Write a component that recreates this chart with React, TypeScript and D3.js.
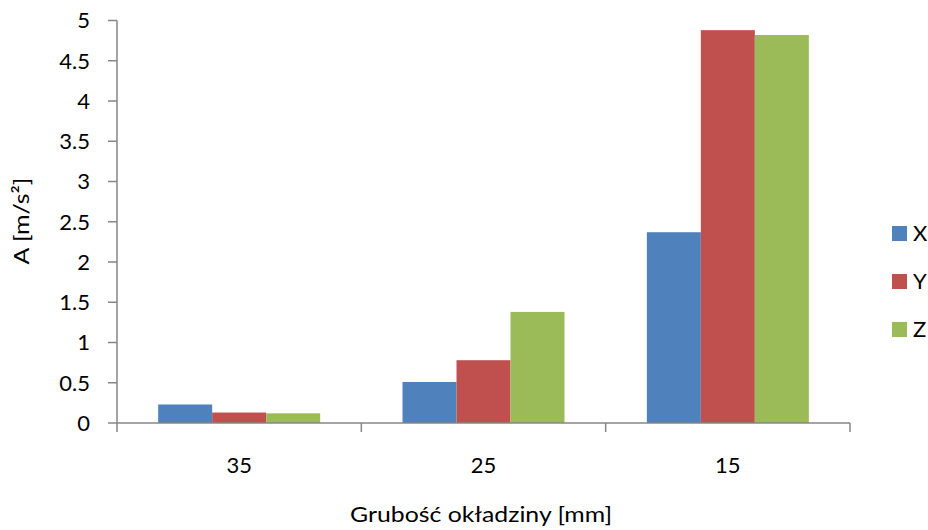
import React from "react";
import * as d3 from "d3";

const categories = ["35", "25", "15"];
const seriesNames = ["X", "Y", "Z"];
const valuesX = [0.23, 0.51, 2.37];
const valuesY = [0.13, 0.78, 4.88];
const valuesZ = [0.12, 1.38, 4.82];
const yTicks = [0, 0.5, 1, 1.5, 2, 2.5, 3, 3.5, 4, 4.5, 5];
const colors = ["#4F81BD", "#C0504D", "#9BBB59"];

const W = 928, H = 530;
const left = 117, right = 850, top = 20.5, bottom = 423;
const font = "Lato, 'Open Sans', sans-serif";

export default function App() {
  const series = [valuesX, valuesY, valuesZ];
  const x0 = d3.scaleBand().domain(categories).range([left, right]).paddingInner(0).paddingOuter(0);
  const x1 = d3.scaleBand().domain(seriesNames).range([0, x0.bandwidth() * 0.663]).padding(0);
  const groupOffset = (x0.bandwidth() - x0.bandwidth() * 0.663) / 2;
  const y = d3.scaleLinear().domain([0, 5]).range([bottom, top]);
  const axisColor = "#868686";
  const boundaries = [left, ...categories.map((c) => (x0(c) as number) + x0.bandwidth())];

  return (
    <svg width={W} height={H} style={{ position: "absolute", left: 0, top: 0, background: "#fff" }}>
      {series.map((vals, si) =>
        vals.map((v, ci) => (
          <rect
            key={`${si}-${ci}`}
            x={(x0(categories[ci]) as number) + groupOffset + (x1(seriesNames[si]) as number)}
            y={y(v)}
            width={x1.bandwidth()}
            height={y(0) - y(v)}
            fill={colors[si]}
          />
        ))
      )}
      {/* y axis */}
      <line x1={left} x2={left} y1={top} y2={bottom} stroke={axisColor} strokeWidth={1.5} />
      {yTicks.map((t) => (
        <g key={t}>
          <line x1={left - 9} x2={left} y1={y(t)} y2={y(t)} stroke={axisColor} strokeWidth={1.5} />
          <text x={left - 27} y={y(t)} dy="0.36em" textAnchor="end" fontSize={22} fontFamily={font} fill="#000">
            {t}
          </text>
        </g>
      ))}
      {/* x axis */}
      <line x1={left} x2={right} y1={bottom} y2={bottom} stroke={axisColor} strokeWidth={1.5} />
      {boundaries.map((b, i) => (
        <line key={i} x1={b} x2={b} y1={bottom} y2={bottom + 9} stroke={axisColor} strokeWidth={1.5} />
      ))}
      {categories.map((c) => (
        <text key={c} x={(x0(c) as number) + x0.bandwidth() / 2} y={473} textAnchor="middle" fontSize={22} fontFamily={font} fill="#000">
          {c}
        </text>
      ))}
      <text x={481} y={522} textAnchor="middle" fontSize={22} fontFamily={font} fill="#000" textLength={262} lengthAdjust="spacingAndGlyphs">
        Grubość okładziny [mm]
      </text>
      <text transform={`translate(29,221) rotate(-90)`} textAnchor="middle" fontSize={22} fontFamily={font} fill="#000" textLength={87} lengthAdjust="spacingAndGlyphs">
        A [m/s²]
      </text>
      {/* legend */}
      {seriesNames.map((s, i) => (
        <g key={s} transform={`translate(892,${226 + i * 48})`}>
          <rect x={0} y={0} width={15} height={15} fill={colors[i]} />
          <text x={21} y={7.5} dy="0.36em" fontSize={22} fontFamily={font} fill="#000">
            {s}
          </text>
        </g>
      ))}
    </svg>
  );
}
